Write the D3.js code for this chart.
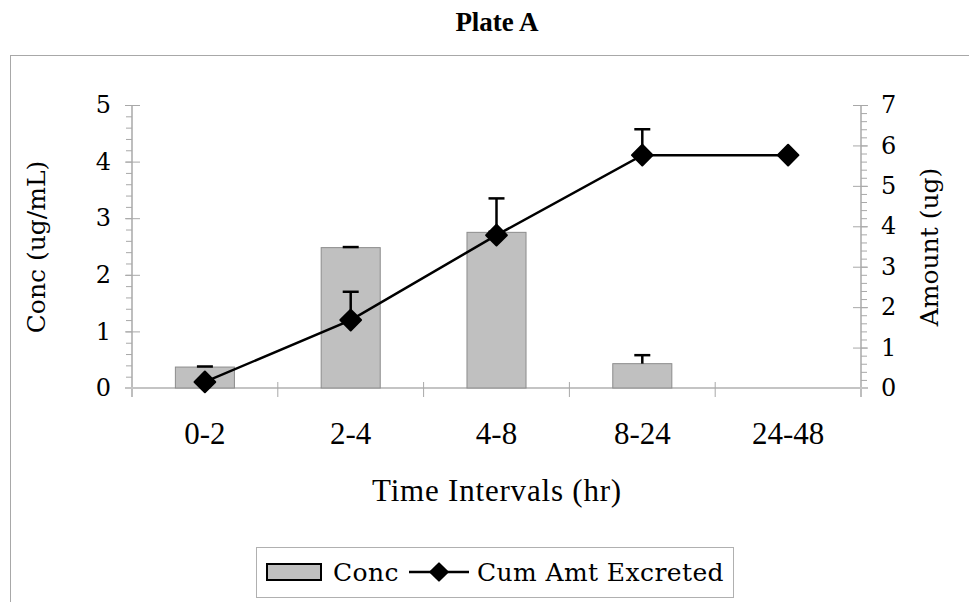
<!DOCTYPE html>
<html>
<head>
<meta charset="utf-8">
<script src="https://cdn.jsdelivr.net/npm/d3@7"></script>
<style>
body { margin: 0; background: #fff; }
</style>
</head>
<body>
<div id="chart"></div>
<script>
"use strict"

// data
var categories = ["0-2", "2-4", "4-8", "8-24", "24-48"];
var conc = [0.37, 2.48, 2.75, 0.43, 0];        // ug/mL, bars, left axis
var concErr = [0.01, 0.01, 0.01, 0.15, 0];
var cumAmt = [0.15, 1.68, 3.78, 5.76, 5.76];   // ug, line, right axis
var cumErr = [0, 0.70, 0.91, 0.64, 0];
var leftTicks = [0, 1, 2, 3, 4, 5];
var rightTicks = [0, 1, 2, 3, 4, 5, 6, 7];

var width = 969,
	height = 602;
var plot = {left: 132, right: 861, top: 105, bottom: 388};

var serif = "'DejaVu Serif', serif",
	times = "'Liberation Serif', 'Times New Roman', serif",
	axisGrey = "#a8a8a8";

var svg = d3.select("#chart").append("svg")
	.attr("width", width)
	.attr("height", height);

// chart frame (runs past the right and bottom edge)
svg.append("rect")
	.attr("x", 10.5).attr("y", 55.5)
	.attr("width", 1000).attr("height", 600)
	.attr("fill", "none")
	.attr("stroke", "#a8a8a8");

svg.append("text")
	.attr("x", 497).attr("y", 22).attr("dy", "0.35em")
	.attr("text-anchor", "middle")
	.style("font-family", times)
	.style("font-weight", "bold")
	.style("font-size", "27px")
	.text("Plate A");

var x = d3.scaleBand()
	.domain(categories)
	.range([plot.left, plot.right]);

var yL = d3.scaleLinear().domain([0, 5]).range([plot.bottom, plot.top]);
var yR = d3.scaleLinear().domain([0, 7]).range([plot.bottom, plot.top]);

// minor ticks every 0.2
var minorL = d3.range(0, 26).map(function(i) { return i / 5; });
var minorR = d3.range(0, 36).map(function(i) { return i / 5; });

var styleAxis = function(g) {
	g.select(".domain").remove();
	g.selectAll(".tick line").attr("stroke", axisGrey);
	g.selectAll(".tick text")
		.style("font-family", serif)
		.style("font-size", "24px")
		.attr("fill", "#000");
};

// left axis
svg.append("g")
	.attr("transform", "translate(" + plot.left + ",0)")
	.call(d3.axisLeft(yL).tickValues(minorL).tickSize(6).tickFormat(""))
	.call(styleAxis);
svg.append("g")
	.attr("transform", "translate(" + plot.left + ",0)")
	.call(d3.axisLeft(yL).tickValues(leftTicks).tickSize(7).tickPadding(14).tickFormat(d3.format("d")))
	.call(styleAxis)
	.call(function(g) { g.selectAll(".tick line").attr("x1", 8).attr("x2", -7); });
svg.append("line")
	.attr("x1", plot.left).attr("x2", plot.left)
	.attr("y1", plot.top).attr("y2", plot.bottom + 9)
	.attr("stroke", axisGrey).attr("stroke-width", 1.5);

// right axis
svg.append("g")
	.attr("transform", "translate(" + plot.right + ",0)")
	.call(d3.axisRight(yR).tickValues(minorR).tickSize(6).tickFormat(""))
	.call(styleAxis);
svg.append("g")
	.attr("transform", "translate(" + plot.right + ",0)")
	.call(d3.axisRight(yR).tickValues(rightTicks).tickSize(7).tickPadding(13).tickFormat(d3.format("d")))
	.call(styleAxis)
	.call(function(g) { g.selectAll(".tick line").attr("x1", -8).attr("x2", 7); });
svg.append("line")
	.attr("x1", plot.right).attr("x2", plot.right)
	.attr("y1", plot.top).attr("y2", plot.bottom + 9)
	.attr("stroke", axisGrey).attr("stroke-width", 1.5);

// x axis
svg.append("line")
	.attr("x1", plot.left - 7).attr("x2", plot.right + 7)
	.attr("y1", plot.bottom).attr("y2", plot.bottom)
	.attr("stroke", "#c4c4c4").attr("stroke-width", 2);
svg.selectAll("line.xtick").data(categories.slice(1)).enter().append("line")
	.attr("class", "xtick")
	.attr("x1", function(d) { return x(d); })
	.attr("x2", function(d) { return x(d); })
	.attr("y1", plot.bottom - 6).attr("y2", plot.bottom + 9)
	.attr("stroke", axisGrey);
svg.append("g")
	.attr("transform", "translate(0," + plot.bottom + ")")
	.call(d3.axisBottom(x).tickSize(0).tickPadding(34))
	.call(function(g) {
		g.select(".domain").remove();
		g.selectAll(".tick text")
			.style("font-family", times)
			.style("font-size", "31px")
			.attr("fill", "#000");
	});

// axis titles
svg.append("text")
	.attr("x", 497).attr("y", 490).attr("dy", "0.35em")
	.attr("text-anchor", "middle")
	.style("font-family", times)
	.style("font-size", "31px")
	.style("letter-spacing", "0.8px")
	.text("Time Intervals (hr)");

svg.append("text")
	.attr("transform", "translate(36,247) rotate(-90)")
	.attr("dy", "0.35em")
	.attr("text-anchor", "middle")
	.style("font-family", serif)
	.style("font-size", "25px")
	.text("Conc (ug/mL)");

svg.append("text")
	.attr("transform", "translate(929,247) rotate(-90)")
	.attr("dy", "0.35em")
	.attr("text-anchor", "middle")
	.style("font-family", serif)
	.style("font-size", "25px")
	.text("Amount (ug)");

// bars
var bw = x.bandwidth() * 0.405;
var cx = function(i) { return x(categories[i]) + x.bandwidth() / 2; };
var idx = d3.range(categories.length);

svg.selectAll("rect.bar").data(idx.filter(function(i) { return conc[i] > 0; }))
	.enter().append("rect")
	.attr("class", "bar")
	.attr("x", function(i) { return cx(i) - bw / 2; })
	.attr("y", function(i) { return yL(conc[i]); })
	.attr("width", bw)
	.attr("height", function(i) { return yL(0) - yL(conc[i]); })
	.attr("fill", "#c0c0c0")
	.attr("stroke", "#8c8c8c")
	.attr("stroke-width", 1);

var drawErr = function(list, yscale, vals, errs) {
	var g = svg.append("g").attr("stroke", "#000").attr("stroke-width", 2.5);
	list.forEach(function(i) {
		var y0 = yscale(vals[i]),
			y1 = yscale(vals[i] + errs[i]);
		g.append("line").attr("x1", cx(i)).attr("x2", cx(i)).attr("y1", y0).attr("y2", y1);
		g.append("line").attr("x1", cx(i) - 8).attr("x2", cx(i) + 8).attr("y1", y1).attr("y2", y1);
	});
};

drawErr(idx.filter(function(i) { return conc[i] > 0; }), yL, conc, concErr);

// cumulative amount line
var line = d3.line()
	.x(function(i) { return cx(i); })
	.y(function(i) { return yR(cumAmt[i]); });

svg.append("path")
	.datum(idx)
	.attr("d", line)
	.attr("fill", "none")
	.attr("stroke", "#000")
	.attr("stroke-width", 2.5);

drawErr(idx.filter(function(i) { return cumErr[i] > 0; }), yR, cumAmt, cumErr);

var diamond = d3.symbol().type(d3.symbolSquare).size(215);
svg.selectAll("path.pt").data(idx).enter().append("path")
	.attr("class", "pt")
	.attr("d", diamond)
	.attr("transform", function(i) { return "translate(" + cx(i) + "," + yR(cumAmt[i]) + ") rotate(45)"; })
	.attr("fill", "#000")
	.attr("stroke", "#000")
	.attr("stroke-width", 2)
	.attr("stroke-linejoin", "round");

// legend
var legend = svg.append("g");
legend.append("rect")
	.attr("x", 256.5).attr("y", 547.5)
	.attr("width", 477).attr("height", 50)
	.attr("fill", "#fff")
	.attr("stroke", "#b0b0b0");
legend.append("rect")
	.attr("x", 267).attr("y", 564)
	.attr("width", 54).attr("height", 16)
	.attr("fill", "#c0c0c0")
	.attr("stroke", "#000")
	.attr("stroke-width", 2);
legend.append("text")
	.attr("x", 333).attr("y", 572).attr("dy", "0.35em")
	.style("font-family", serif)
	.style("font-size", "25px")
	.style("letter-spacing", "0.4px")
	.text("Conc");
legend.append("line")
	.attr("x1", 409).attr("x2", 469)
	.attr("y1", 572).attr("y2", 572)
	.attr("stroke", "#000").attr("stroke-width", 2.5);
legend.append("path")
	.attr("d", d3.symbol().type(d3.symbolSquare).size(150))
	.attr("transform", "translate(439,572) rotate(45)")
	.attr("fill", "#000")
	.attr("stroke", "#000")
	.attr("stroke-width", 2)
	.attr("stroke-linejoin", "round");
legend.append("text")
	.attr("x", 477).attr("y", 572).attr("dy", "0.35em")
	.style("font-family", serif)
	.style("font-size", "25px")
	.style("letter-spacing", "0.4px")
	.text("Cum Amt Excreted");
</script>
</body>
</html>
